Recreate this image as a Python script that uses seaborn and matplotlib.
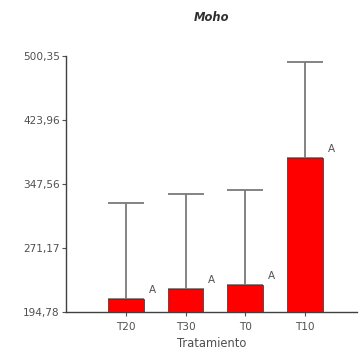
import matplotlib
matplotlib.use("Agg")
import matplotlib.pyplot as plt
import seaborn as sns
import pandas as pd

categories = ["T20", "T30", "T0", "T10"]
means = [210.3, 222.0, 227.0, 378.6]
errors = [115.0, 113.6, 113.4, 114.6]
letters = ["A", "A", "A", "A"]
yticks = [194.78, 271.17, 347.56, 423.96, 500.35]
ytick_labels = ["194,78", "271,17", "347,56", "423,96", "500,35"]

sns.set_style("white")
plt.rcParams["font.family"] = ["DejaVu Sans"]

df = pd.DataFrame({"Tratamiento": categories, "valor": means})

fig = plt.figure(figsize=(3.59, 3.56), dpi=100)
ax = fig.add_axes([66/359, 44/356, 291/359, 256/356])

ax.errorbar(range(len(categories)), means,
            yerr=[[0] * len(errors), errors], fmt="none",
            ecolor="#7a7a7a", elinewidth=1.3, capsize=13, capthick=1.3,
            zorder=1)
sns.barplot(data=df, x="Tratamiento", y="valor", color="#ff0000",
            width=0.6, edgecolor="#303030", linewidth=0.5, ax=ax,
            errorbar=None, saturation=1, zorder=3)
for i, (m, l) in enumerate(zip(means, letters)):
    ax.annotate(l, (i + 0.3, m), xytext=(6, 3), textcoords="offset points",
                ha="center", va="bottom", fontsize=7.5, color="#505050")

ax.set_xlim(-1.0, 3.87)
ax.set_ylim(194.78, 500.35)
ax.set_yticks(yticks)
ax.set_yticklabels(ytick_labels)
ax.set_xlabel("Tratamiento", fontsize=8.3, color="#505050", labelpad=4)
ax.set_ylabel("")
ax.set_title("Moho", fontsize=8.3, fontstyle="italic", fontweight="bold",
             color="#303030", pad=25)
ax.tick_params(axis="both", labelsize=7.6, colors="#505050", length=3,
               width=0.8, direction="out", bottom=True, left=True, pad=1.5)
ax.tick_params(axis="x", pad=4)
for s in ["top", "right"]:
    ax.spines[s].set_visible(False)
for s in ["left", "bottom"]:
    ax.spines[s].set_color("#404040")
    ax.spines[s].set_linewidth(1.0)

fig.savefig("out.png", dpi=100, facecolor="white")
